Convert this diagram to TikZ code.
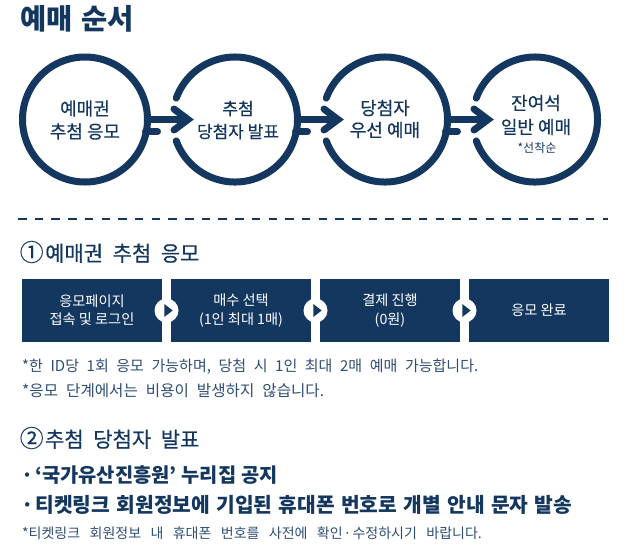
\documentclass[tikz,border=0pt]{standalone}
\usepackage{fontspec}
\usetikzlibrary{calc}
\setmainfont{Noto Sans CJK KR}
\newfontfamily\medf[FakeBold=0.35]{Noto Sans CJK KR}
\definecolor{navy}{HTML}{14375F}
\definecolor{notecol}{HTML}{2F4E74}
\newcommand{\fs}[1]{\fontsize{#1}{#1}\selectfont}
\newcommand{\gap}[1]{\spaceskip=#1pt\relax}
\tikzset{
  ring/.style={circle,minimum size=125pt,inner sep=0pt,outer sep=0pt},
  ringline/.style={draw=navy,line width=7pt,line cap=round},
  shaft/.style={draw=navy,line width=7.5pt,line cap=butt},
  chevron/.style={draw=navy,line width=7pt,line cap=round,line join=miter},
  ringtext/.style={text=navy,align=center,inner sep=0pt,font=\medf\fs{18}},
  flowbox/.style={fill=navy,minimum width=140pt,minimum height=63pt,inner sep=0pt,outer sep=0pt,text=white,align=center,font=\fs{14.2}},
  hop/.style={circle,fill=white,minimum size=24pt,inner sep=0pt},
  hoptip/.style={fill=navy},
  headtext/.style={text=navy,anchor=west,inner sep=0pt},
  notetext/.style={text=notecol,anchor=west,inner sep=0pt}
}
\begin{document}
\begin{tikzpicture}[x=1pt,y=-1pt]
\useasboundingbox (0,0) rectangle (632,547);
\fill[white] (0,0) rectangle (632,547);
\node[headtext,font=\fs{28.5}\bfseries] (title) at (20,19) {\gap{9}예매 순서};

\node[ring] (c1) at (85,119.5) {};
\node[ring] (c2) at (235,119.5) {};
\node[ring] (c3) at (385,119.5) {};
\node[ring] (c4) at (535,119.5) {};
\draw[ringline] (c1.center) circle[radius=62.5];
\foreach \n in {c2,c3,c4}{
  \draw[ringline] (\n.160) arc[start angle=200,end angle=520,radius=62.5];
}
\foreach \a/\b in {c1/c2,c2/c3,c3/c4}{
  \coordinate (tip) at ($(\b.center)+(-47,0)$);
  \draw[shaft] (\a.east) -- (tip);
  \draw[chevron] ($(tip)+(-14,-10.5)$) -- (tip) -- ($(tip)+(-14,10.5)$);
  \draw[ringline] ($(\a.east)+(-2,12)$) -- ($(\a.east)+(10,12)$);
}
\node[ringtext] (t1) at (85,120) {예매권\\[5pt]추첨 응모};
\node[ringtext,font=\medf\fs{17}] (t2) at (238,120) {추첨\\[6pt]당첨자 발표};
\node[ringtext] (t3) at (385,119) {당첨자\\[4pt]우선 예매};
\node[ringtext] (t4) at (536,115) {잔여석\\[6pt]일반 예매};
\node[text=navy,inner sep=0pt,font=\fs{12}] (t4b) at (537,148) {*선착순};

\draw[draw=navy,line width=1.8pt,dash pattern=on 8.5pt off 8.2pt] (18,219) -- (608,219);

\node[headtext,font=\medf\fs{21}] (h1) at (19.5,252) {\gap{9.5}{\fs{24}①}\hspace{1.5pt}예매권 추첨 응모};

\node[flowbox] (b1) at (92,310.5) {응모페이지\\[4pt]접속 및 로그인};
\node[flowbox] (b2) at (241,310.5) {매수 선택\\[4pt](1인 최대 1매)};
\node[flowbox] (b3) at (390,310.5) {결제 진행\\[4pt](0원)};
\node[flowbox] (b4) at (539,310.5) {응모 완료};
\foreach \a/\b in {b1/b2,b2/b3,b3/b4}{
  \node[hop] (hop) at ($(\a.east)!0.5!(\b.west)$) {};
  \fill[hoptip] ($(hop.center)+(-2.2,-6.5)$) -- ($(hop.center)+(6.2,0)$) -- ($(hop.center)+(-2.2,6.5)$) -- cycle;
}

\node[notetext,font=\fs{15}] (n1) at (22,367) {\gap{7.6}*한 ID당 1회 응모 가능하며, 당첨 시 1인 최대 2매 예매 가능합니다.};
\node[notetext,font=\fs{15.6}] (n2) at (22,391) {\gap{8}*응모 단계에서는 비용이 발생하지 않습니다.};

\node[headtext,font=\medf\fs{21}] (h2) at (19.5,438) {\gap{9.5}{\fs{24}②}\hspace{1.5pt}추첨 당첨자 발표};
\node[headtext,font=\fs{19.8}\bfseries] (p1) at (21,475) {\gap{5}·\hspace{2pt}‘국가유산진흥원’ 누리집 공지};
\node[headtext,font=\fs{20.3}\bfseries] (p2) at (21,505) {\gap{6.4}·\hspace{2pt}티켓링크 회원정보에 기입된 휴대폰 번호로 개별 안내 문자 발송};
\node[notetext,font=\fs{14}] (n3) at (22,533) {\gap{9.4}*티켓링크 회원정보 내 휴대폰 번호를 사전에 확인\hspace{1pt}·\hspace{1pt}수정하시기 바랍니다.};
\end{tikzpicture}
\end{document}
